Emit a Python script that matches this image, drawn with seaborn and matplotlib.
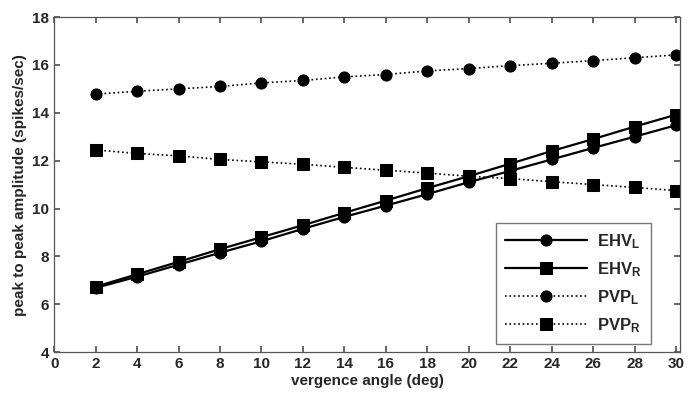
import numpy as np
import pandas as pd
import matplotlib
matplotlib.use("Agg")
import matplotlib.pyplot as plt
import seaborn as sns

# 数据
angle = [2, 4, 6, 8, 10, 12, 14, 16, 18, 20, 22, 24, 26, 28, 30]
ehv_l = [6.68, 7.15, 7.65, 8.15, 8.63, 9.15, 9.65, 10.12, 10.6, 11.1, 11.57, 12.05, 12.53, 13.0, 13.48]
ehv_r = [6.73, 7.25, 7.77, 8.3, 8.8, 9.3, 9.82, 10.33, 10.85, 11.35, 11.87, 12.4, 12.9, 13.42, 13.92]
pvp_l = [14.78, 14.9, 15.0, 15.1, 15.25, 15.35, 15.5, 15.6, 15.75, 15.85, 15.97, 16.07, 16.18, 16.3, 16.42]
pvp_r = [12.45, 12.3, 12.2, 12.05, 11.95, 11.85, 11.72, 11.6, 11.48, 11.35, 11.25, 11.12, 11.0, 10.88, 10.75]

series = [
    ("EHV$_\\mathbf{L}$", ehv_l, "-", "o"),
    ("EHV$_\\mathbf{R}$", ehv_r, "-", "s"),
    ("PVP$_\\mathbf{L}$", pvp_l, ":", "o"),
    ("PVP$_\\mathbf{R}$", pvp_r, ":", "s"),
]

sns.set_theme(style="ticks")
plt.rcParams["font.family"] = ["Liberation Sans", "DejaVu Sans"]
plt.rcParams["font.weight"] = "bold"
plt.rcParams["mathtext.default"] = "bf"
plt.rcParams["mathtext.fontset"] = "custom"
plt.rcParams["mathtext.bf"] = "Liberation Sans:bold"

fig, ax = plt.subplots(figsize=(6.94, 4.07), dpi=100)

for name, vals, ls, mk in series:
    df = pd.DataFrame({"angle": angle, "amp": vals})
    sns.lineplot(data=df, x="angle", y="amp", ax=ax, color="black",
                 linestyle=ls, marker=mk, markersize=8 if mk == "o" else 8.5,
                 markeredgecolor="black", linewidth=1.6 if ls == "-" else 1.2,
                 label=name)

ax.set_xlim(0, 30.2)
ax.set_ylim(4, 18)
ax.set_xticks(range(0, 31, 2))
ax.set_yticks(range(4, 19, 2))
ax.tick_params(direction="in", top=True, right=True, labelsize=11, length=4,
               color="#555555")
for lab in ax.get_xticklabels() + ax.get_yticklabels():
    lab.set_fontweight("bold")
for sp in ax.spines.values():
    sp.set_color("#555555")
    sp.set_linewidth(0.9)

ax.set_xlabel("vergence angle (deg)", fontsize=11, fontweight="bold", labelpad=2)
ax.set_ylabel("peak to peak amplitude (spikes/sec)", fontsize=11, fontweight="bold", labelpad=4)

leg = ax.legend(loc="lower right", bbox_to_anchor=(0.953, 0.025), fancybox=False,
                framealpha=1, edgecolor="#777777", fontsize=12,
                handlelength=4.9, handletextpad=0.6, labelspacing=0.55,
                borderpad=0.55, borderaxespad=0)
leg.get_frame().set_linewidth(1.0)

plt.subplots_adjust(left=0.078, right=0.98, top=0.958, bottom=0.135)
plt.savefig("out.png", dpi=100)
